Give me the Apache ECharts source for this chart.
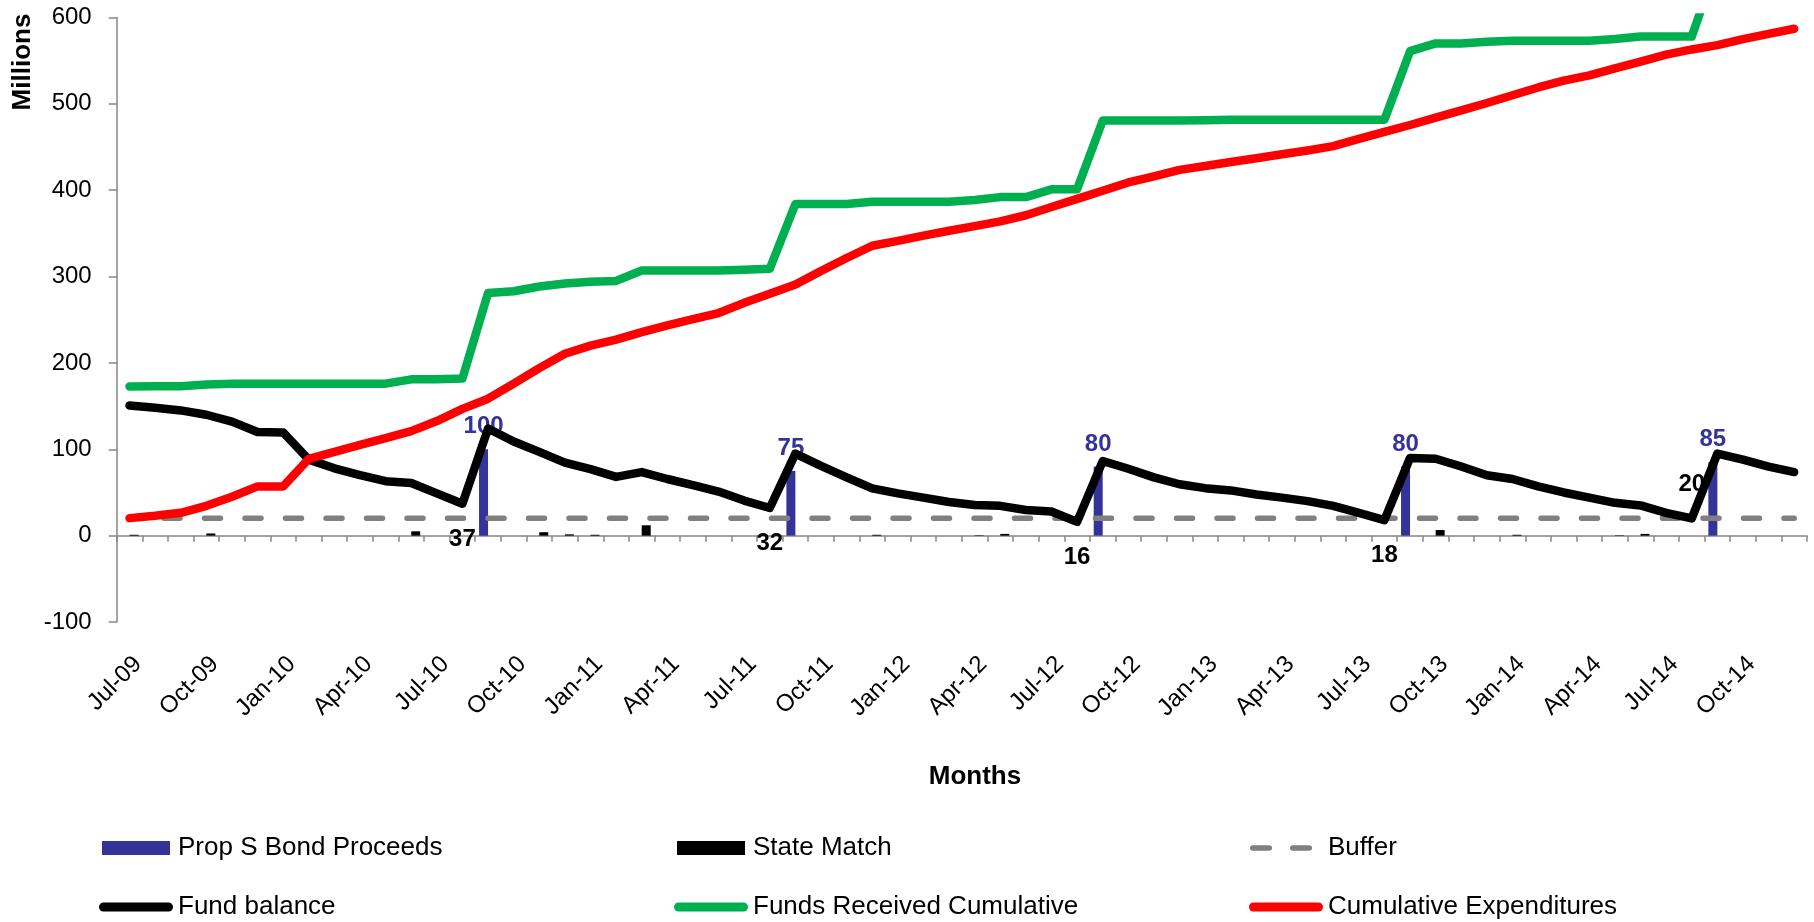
<!DOCTYPE html>
<html>
<head>
<meta charset="utf-8">
<title>Prop S Fund Balance</title>
<script src="https://cdn.jsdelivr.net/npm/echarts@6/dist/echarts.min.js"></script>
<style>
  html, body { margin: 0; padding: 0; background: #fff; }
  #chart { width: 1814px; height: 922px; }
</style>
</head>
<body>
<div id="chart"></div>
<script>
// Monthly categories, Jul 2009 - Dec 2014
const months = [
  'Jul-09','Aug-09','Sep-09','Oct-09','Nov-09','Dec-09',
  'Jan-10','Feb-10','Mar-10','Apr-10','May-10','Jun-10','Jul-10','Aug-10','Sep-10','Oct-10','Nov-10','Dec-10',
  'Jan-11','Feb-11','Mar-11','Apr-11','May-11','Jun-11','Jul-11','Aug-11','Sep-11','Oct-11','Nov-11','Dec-11',
  'Jan-12','Feb-12','Mar-12','Apr-12','May-12','Jun-12','Jul-12','Aug-12','Sep-12','Oct-12','Nov-12','Dec-12',
  'Jan-13','Feb-13','Mar-13','Apr-13','May-13','Jun-13','Jul-13','Aug-13','Sep-13','Oct-13','Nov-13','Dec-13',
  'Jan-14','Feb-14','Mar-14','Apr-14','May-14','Jun-14','Jul-14','Aug-14','Sep-14','Oct-14','Nov-14','Dec-14'
];

// Bond sales (millions) and the months they arrived
const bondMonths = ['Sep-10', 'Sep-11', 'Sep-12', 'Sep-13', 'Sep-14'];
const bondValues = [100, 75, 80, 80, 85];

// State matching funds (millions)
const matchMonths = ['Jul-09','Oct-09','Jun-10','Nov-10','Dec-10','Jan-11','Mar-11','Dec-11','Apr-12','May-12','Oct-13','Jan-14','May-14','Jun-14'];
const matchValues = [1, 2.5, 5, 4, 1.5, 1, 12, 1, 0.5, 2, 6.5, 1, 0.5, 2];

// Minimum balance to keep on hand (millions)
const bufferLevel = 20;

// Month-end fund balance (millions)
const fundBalance = [
  150.6, 148, 145, 140, 132, 120,
  119.5, 88, 78, 70, 63, 61, 49, 37, 124, 109, 97, 84.5,
  77, 68, 73.6, 65.6, 58.5, 51, 40.6, 32, 95, 80.7, 67.5, 54.8,
  49, 44, 39, 35.4, 34.5, 29.7, 27.9, 16, 86.4, 77.4, 67.5, 59.5,
  55, 52.4, 47.7, 44, 40, 34.5, 26.4, 18, 90, 89, 80, 70,
  65.6, 57, 50, 44, 38, 35, 26.4, 20, 95, 88, 80, 73.6
];

// Cumulative funds received (millions)
const fundsReceived = [
  172.8, 173, 173, 175, 176, 176,
  176, 176, 176, 176, 176, 181, 181, 182, 281, 283, 288.5, 292,
  294, 295, 307, 307, 307, 307, 308, 309, 384, 384, 384, 386.7,
  386.7, 386.7, 386.7, 388.6, 392, 392, 401, 401, 480.6, 480.6, 480.6, 480.6,
  481, 481.5, 481.5, 481.5, 481.5, 481.5, 481.5, 481.5, 561, 570, 570, 572,
  573, 573, 573, 573, 575, 578, 578, 578, 663, 663, 664, 665
];

// Cumulative expenditures (millions)
const expenditures = [
  20.3, 23, 26.4, 34.5, 45, 57,
  57, 89, 97, 105, 113, 121, 132.7, 146.8, 158.6, 176, 194, 210.6,
  220, 227, 235.6, 243.6, 250.7, 257.8, 269.6, 280, 290.8, 306.4, 321.5, 335.7,
  341.4, 347.5, 353, 358.4, 364, 371, 380.5, 390, 399.4, 409, 416, 423.5,
  428, 432.6, 437, 441.6, 446, 451, 459.5, 467.5, 475.5, 484, 492.5, 501,
  510, 519, 527, 533, 541, 549, 557, 563, 568, 575, 581, 587
];

// Low points of the balance that carry a value label
const lowMonths = ['Aug-10', 'Aug-11', 'Aug-12', 'Aug-13', 'Aug-14'];
const lowAbove = ['Aug-14'];

const yTicks = { min: -100, max: 600, step: 100 };

const FONT = '"Liberation Sans", Arial, sans-serif';
const AXIS_GREY = '#868686';

function byMonth(keys, vals) {
  return months.map(m => {
    const k = keys.indexOf(m);
    return k >= 0 ? vals[k] : null;
  });
}

const bondData = byMonth(bondMonths, bondValues);
const matchData = byMonth(matchMonths, matchValues);
const bufferData = months.map(() => bufferLevel);
const balanceData = fundBalance.map((v, i) => {
  const m = months[i];
  if (lowMonths.indexOf(m) < 0) return { value: v, symbol: 'none' };
  const above = lowAbove.indexOf(m) >= 0;
  return {
    value: v,
    label: {
      show: true,
      position: above ? 'top' : 'bottom',
      distance: above ? 21 : 23,
      formatter: '{c}',
      fontFamily: FONT,
      fontSize: 24,
      fontWeight: 'bold',
      color: '#000'
    }
  };
});

// Legend icons, drawn in a 76-unit wide box; the zero-length end segments pin the box width
const ICON_BAR = 'path://M0,7L0,7M76,7L76,7M5,0L73,0L73,14L5,14Z';
const ICON_LINE = 'path://M0,4.5L0,4.5M6.5,0L71.5,0A4.5,4.5 0 0 1 71.5,9L6.5,9A4.5,4.5 0 0 1 6.5,0Z';
const ICON_DASH = 'path://M0,2.75L0,2.75M76,2.75L76,2.75' +
  'M5.75,0L22.25,0A2.75,2.75 0 0 1 22.25,5.5L5.75,5.5A2.75,2.75 0 0 1 5.75,0Z' +
  'M45.75,0L62.25,0A2.75,2.75 0 0 1 62.25,5.5L45.75,5.5A2.75,2.75 0 0 1 45.75,0Z';

const legendItems = [
  { name: 'Prop S Bond Proceeds', col: 0, row: 0, icon: ICON_BAR, h: 14 },
  { name: 'State Match', col: 1, row: 0, icon: ICON_BAR, h: 14 },
  { name: 'Buffer', col: 2, row: 0, icon: ICON_DASH, h: 5.5 },
  { name: 'Fund balance', col: 0, row: 1, icon: ICON_LINE, h: 9 },
  { name: 'Funds Received Cumulative', col: 1, row: 1, icon: ICON_LINE, h: 9 },
  { name: 'Cumulative Expenditures', col: 2, row: 1, icon: ICON_LINE, h: 9 }
];
const legendLefts = [97, 672, 1247];
const legendRowTops = [835, 894];
const legends = legendItems.map(it => ({
  data: [{ name: it.name, icon: it.icon }],
  left: legendLefts[it.col],
  top: legendRowTops[it.row],
  padding: 0,
  itemWidth: 76,
  itemHeight: it.h,
  symbolKeepAspect: false,
  itemStyle: { borderWidth: 0 },
  selectedMode: false,
  textStyle: { fontFamily: FONT, fontSize: 26, color: '#000' }
}));

const chart = echarts.init(document.getElementById('chart'), null, { renderer: 'canvas' });

chart.setOption({
  animation: false,
  backgroundColor: '#fff',
  grid: { left: 116.7, right: 7, top: 17.5, bottom: 300, containLabel: false },
  legend: legends,
  xAxis: {
    type: 'category',
    data: months,
    boundaryGap: true,
    axisLine: { onZero: true, lineStyle: { color: AXIS_GREY, width: 1.5 } },
    axisTick: { show: true, interval: 0, length: 6, lineStyle: { color: AXIS_GREY, width: 1.5 } },
    axisLabel: {
      interval: 2,
      rotate: 45,
      margin: 30,
      verticalAlign: 'top',
      fontFamily: FONT,
      fontSize: 24,
      color: '#000'
    },
    splitLine: { show: false }
  },
  yAxis: {
    type: 'value',
    min: yTicks.min,
    max: yTicks.max,
    interval: yTicks.step,
    axisLine: { show: true, lineStyle: { color: AXIS_GREY, width: 1.5 } },
    axisTick: { show: true, length: 8, lineStyle: { color: AXIS_GREY, width: 1.5 } },
    axisLabel: { margin: 25, fontFamily: FONT, fontSize: 24, color: '#000' },
    splitLine: { show: false }
  },
  graphic: [
    {
      type: 'text',
      x: 22.5, y: 62,
      rotation: Math.PI / 2,
      style: { text: 'Millions', font: 'bold 26px ' + FONT, fill: '#000', align: 'center', verticalAlign: 'middle' }
    },
    {
      type: 'text',
      x: 975, y: 777,
      style: { text: 'Months', font: 'bold 26px ' + FONT, fill: '#000', align: 'center', verticalAlign: 'middle' }
    }
  ],
  series: [
    {
      name: 'Prop S Bond Proceeds',
      type: 'bar',
      data: bondData,
      barWidth: 9,
      barGap: '0%',
      itemStyle: { color: '#333399' },
      label: {
        show: true,
        position: 'top',
        distance: 10.5,
        fontFamily: FONT,
        fontSize: 24,
        fontWeight: 'bold',
        color: '#333399'
      }
    },
    {
      name: 'State Match',
      type: 'bar',
      data: matchData,
      barWidth: 9,
      barGap: '0%',
      itemStyle: { color: '#000' }
    },
    {
      name: 'Buffer',
      type: 'line',
      data: bufferData,
      symbol: 'none',
      itemStyle: { color: '#808080' },
      lineStyle: { color: '#808080', width: 5.5, type: [16, 24.5], dashOffset: 6, cap: 'round' }
    },
    {
      name: 'Fund balance',
      type: 'line',
      data: balanceData,
      symbol: 'circle',
      symbolSize: 1,
      showSymbol: true,
      showAllSymbol: true,
      itemStyle: { color: '#000' },
      lineStyle: { color: '#000', width: 8.5, cap: 'round', join: 'round' }
    },
    {
      name: 'Funds Received Cumulative',
      type: 'line',
      data: fundsReceived,
      symbol: 'none',
      itemStyle: { color: '#00B050' },
      lineStyle: { color: '#00B050', width: 8.5, cap: 'round', join: 'round' }
    },
    {
      name: 'Cumulative Expenditures',
      type: 'line',
      data: expenditures,
      symbol: 'none',
      itemStyle: { color: '#FF0000' },
      lineStyle: { color: '#FF0000', width: 8.5, cap: 'round', join: 'round' }
    }
  ]
});
</script>
</body>
</html>
